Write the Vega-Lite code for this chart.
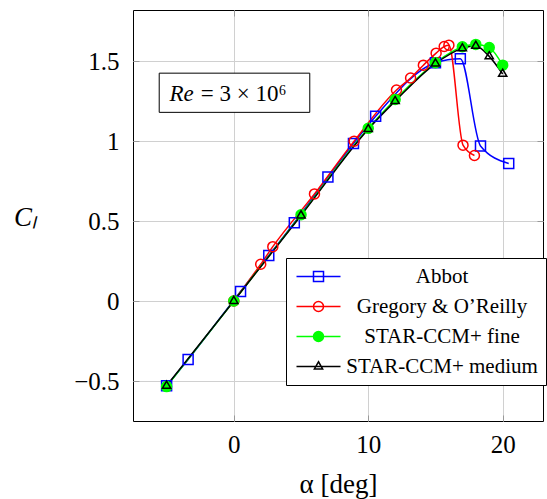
{
  "$schema": "https://vega.github.io/schema/vega-lite/v6.json",
  "width": 410,
  "height": 411,
  "autosize": {"type": "none"},
  "padding": {"left": 133, "top": 10, "right": 4, "bottom": 78},
  "background": "white",
  "config": {"view": {"stroke": "black", "strokeWidth": 1}, "font": "Liberation Serif", "legend": {"labelFont": "Liberation Serif"}},
  "data": {"values": [
    {"series": "Abbot", "alpha": -5.0, "cl": -0.53},
    {"series": "Abbot", "alpha": -3.4, "cl": -0.365},
    {"series": "Abbot", "alpha": 0.5, "cl": 0.06},
    {"series": "Abbot", "alpha": 2.6, "cl": 0.285},
    {"series": "Abbot", "alpha": 4.5, "cl": 0.49},
    {"series": "Abbot", "alpha": 7.0, "cl": 0.775},
    {"series": "Abbot", "alpha": 8.9, "cl": 0.985},
    {"series": "Abbot", "alpha": 10.55, "cl": 1.155},
    {"series": "Abbot", "alpha": 15.0, "cl": 1.49},
    {"series": "Abbot", "alpha": 16.85, "cl": 1.515},
    {"series": "Abbot", "alpha": 18.35, "cl": 0.97},
    {"series": "Abbot", "alpha": 20.45, "cl": 0.86},
    {"series": "Gregory & O’Reilly", "alpha": 0.0, "cl": 0.0},
    {"series": "Gregory & O’Reilly", "alpha": 2.0, "cl": 0.23},
    {"series": "Gregory & O’Reilly", "alpha": 2.9, "cl": 0.34},
    {"series": "Gregory & O’Reilly", "alpha": 6.0, "cl": 0.67},
    {"series": "Gregory & O’Reilly", "alpha": 8.95, "cl": 1.0},
    {"series": "Gregory & O’Reilly", "alpha": 12.1, "cl": 1.32},
    {"series": "Gregory & O’Reilly", "alpha": 13.15, "cl": 1.395},
    {"series": "Gregory & O’Reilly", "alpha": 14.1, "cl": 1.475},
    {"series": "Gregory & O’Reilly", "alpha": 15.05, "cl": 1.55},
    {"series": "Gregory & O’Reilly", "alpha": 15.65, "cl": 1.592},
    {"series": "Gregory & O’Reilly", "alpha": 16.0, "cl": 1.6},
    {"series": "Gregory & O’Reilly", "alpha": 17.05, "cl": 0.975},
    {"series": "Gregory & O’Reilly", "alpha": 17.9, "cl": 0.91},
    {"series": "STAR-CCM+ fine", "alpha": -5.0, "cl": -0.535},
    {"series": "STAR-CCM+ fine", "alpha": 0.0, "cl": 0.0},
    {"series": "STAR-CCM+ fine", "alpha": 5.0, "cl": 0.54},
    {"series": "STAR-CCM+ fine", "alpha": 10.0, "cl": 1.08},
    {"series": "STAR-CCM+ fine", "alpha": 12.0, "cl": 1.26},
    {"series": "STAR-CCM+ fine", "alpha": 15.0, "cl": 1.49},
    {"series": "STAR-CCM+ fine", "alpha": 17.0, "cl": 1.59},
    {"series": "STAR-CCM+ fine", "alpha": 18.0, "cl": 1.605},
    {"series": "STAR-CCM+ fine", "alpha": 19.0, "cl": 1.585},
    {"series": "STAR-CCM+ fine", "alpha": 20.0, "cl": 1.475},
    {"series": "STAR-CCM+ medium", "alpha": -5.0, "cl": -0.53},
    {"series": "STAR-CCM+ medium", "alpha": 0.0, "cl": 0.0},
    {"series": "STAR-CCM+ medium", "alpha": 5.0, "cl": 0.535},
    {"series": "STAR-CCM+ medium", "alpha": 10.0, "cl": 1.075},
    {"series": "STAR-CCM+ medium", "alpha": 12.0, "cl": 1.25},
    {"series": "STAR-CCM+ medium", "alpha": 15.0, "cl": 1.485},
    {"series": "STAR-CCM+ medium", "alpha": 17.0, "cl": 1.58},
    {"series": "STAR-CCM+ medium", "alpha": 18.0, "cl": 1.595},
    {"series": "STAR-CCM+ medium", "alpha": 19.0, "cl": 1.53},
    {"series": "STAR-CCM+ medium", "alpha": 20.0, "cl": 1.42}
  ]},
  "resolve": {"axis": {"x": "independent", "y": "independent"}},
  "layer": [
    {
      "data": {"values": [{}]},
      "mark": {"type": "rect", "fill": "white", "stroke": "black", "strokeWidth": 1},
      "encoding": {
        "x": {"datum": -5.55, "type": "quantitative", "scale": {"domain": [-7.5, 23], "nice": false, "zero": false}, "axis": null},
        "x2": {"datum": 5.65},
        "y": {"datum": 1.425, "type": "quantitative", "scale": {"domain": [-0.75, 1.82], "nice": false, "zero": false}, "axis": null},
        "y2": {"datum": 1.18}
      }
    },
    {
      "data": {"values": [{}]},
      "mark": {"type": "text", "text": "Re", "font": "Liberation Serif", "fontStyle": "italic", "fontSize": 23, "align": "right", "baseline": "alphabetic", "dx": -40, "color": "black"},
      "encoding": {
        "x": {"datum": 0, "type": "quantitative", "axis": null},
        "y": {"datum": 1.25, "type": "quantitative", "axis": null}
      }
    },
    {
      "data": {"values": [{}]},
      "mark": {"type": "text", "text": "= 3 × 10⁶", "font": "Liberation Serif", "fontSize": 23, "align": "left", "baseline": "alphabetic", "dx": -33, "color": "black"},
      "encoding": {
        "x": {"datum": 0, "type": "quantitative", "axis": null},
        "y": {"datum": 1.25, "type": "quantitative", "axis": null}
      }
    },
    {
      "mark": {"type": "line", "interpolate": "monotone", "strokeWidth": 1.5},
      "encoding": {
        "x": {"field": "alpha", "type": "quantitative",
          "axis": {"orient": "bottom", "values": [0, 10, 20], "domain": false, "grid": true, "gridColor": "#d0d0d0", "gridWidth": 1,
            "tickColor": "#999999", "tickSize": -6, "labelPadding": 17, "labelFont": "Liberation Serif", "labelFontSize": 25, "labelColor": "black",
            "title": "α [deg]", "titleFont": "Liberation Serif", "titleFontSize": 27, "titleFontWeight": "normal", "titleColor": "black",
            "titleBaseline": "alphabetic", "titleY": 71}},
        "y": {"field": "cl", "type": "quantitative",
          "axis": {"orient": "left", "values": [-0.5, 0, 0.5, 1, 1.5], "format": "~g", "domain": false, "grid": true, "gridColor": "#d0d0d0", "gridWidth": 1,
            "tickColor": "#999999", "tickSize": -6, "labelPadding": 20, "labelFont": "Liberation Serif", "labelFontSize": 25, "labelColor": "black",
            "title": "Cₗ", "titleFont": "Liberation Serif", "titleFontSize": 27, "titleFontWeight": "normal", "titleFontStyle": "italic", "titleColor": "black",
            "titleAngle": 0, "titleAlign": "center", "titleBaseline": "middle", "titleX": -108, "titleY": 207}},
        "stroke": {"field": "series", "type": "nominal",
          "scale": {"domain": ["Abbot", "Gregory & O’Reilly", "STAR-CCM+ fine", "STAR-CCM+ medium"], "range": ["#0000ff", "#ff0000", "#00ff00", "#000000"]}}
      }
    },
    {
      "mark": {"type": "point", "opacity": 0, "strokeWidth": 1.5, "size": 100},
      "encoding": {
        "x": {"field": "alpha", "type": "quantitative", "axis": null},
        "y": {"field": "cl", "type": "quantitative", "axis": null},
        "stroke": {"field": "series", "type": "nominal"},
        "shape": {"field": "series", "type": "nominal",
          "scale": {"domain": ["Abbot", "Gregory & O’Reilly", "STAR-CCM+ fine", "STAR-CCM+ medium"],
            "range": [
              "M-4.4,0H4.4M-1,-1H1V1H-1Z",
              "M-4.4,0H4.4M1,0A1,1,0,1,1,-1,0A1,1,0,1,1,1,0Z",
              "M-4.4,0H4.4M1,0A1,1,0,1,1,-1,0A1,1,0,1,1,1,0ZM0.75,0A0.75,0.75,0,1,1,-0.75,0A0.75,0.75,0,1,1,0.75,0ZM0.5,0A0.5,0.5,0,1,1,-0.5,0A0.5,0.5,0,1,1,0.5,0ZM0.25,0A0.25,0.25,0,1,1,-0.25,0A0.25,0.25,0,1,1,0.25,0Z",
              "M-4.4,0H4.4M0,-0.95L0.823,0.475L-0.823,0.475Z"]},
          "legend": {"orient": "none", "legendX": 153, "legendY": 248, "title": null, "direction": "vertical",
            "fillColor": "white", "strokeColor": "black", "padding": 8, "rowPadding": 8,
            "labelFont": "Liberation Serif", "labelFontSize": 21, "labelColor": "black", "labelAlign": "center", "labelOffset": 113, "labelLimit": 0,
            "symbolOffset": 14, "symbolSize": 100, "symbolStrokeWidth": 1.5, "symbolOpacity": 1,
            "encode": {"symbols": {"opacity": {"value": 1}, "strokeWidth": {"value": 1.5},
              "fill": {"signal": "datum.value === 'STAR-CCM+ fine' ? '#00ff00' : 'transparent'"}}}}}
      }
    },
    {
      "transform": [{"filter": "datum.series === 'Abbot'"}],
      "mark": {"type": "point", "shape": "square", "size": 100, "strokeWidth": 1.5, "stroke": "#0000ff", "fill": "none", "opacity": 1},
      "encoding": {
        "x": {"field": "alpha", "type": "quantitative", "axis": null},
        "y": {"field": "cl", "type": "quantitative", "axis": null}
      }
    },
    {
      "transform": [{"filter": "indexof(datum.series, 'Gregory') === 0"}],
      "mark": {"type": "point", "shape": "circle", "size": 100, "strokeWidth": 1.5, "stroke": "#ff0000", "fill": "none", "opacity": 1},
      "encoding": {
        "x": {"field": "alpha", "type": "quantitative", "axis": null},
        "y": {"field": "cl", "type": "quantitative", "axis": null}
      }
    },
    {
      "transform": [{"filter": "datum.series === 'STAR-CCM+ fine'"}],
      "mark": {"type": "point", "shape": "circle", "size": 100, "strokeWidth": 1.5, "stroke": "#00ff00", "fill": "#00ff00", "opacity": 1},
      "encoding": {
        "x": {"field": "alpha", "type": "quantitative", "axis": null},
        "y": {"field": "cl", "type": "quantitative", "axis": null}
      }
    },
    {
      "transform": [{"filter": "datum.series === 'STAR-CCM+ medium'"}],
      "mark": {"type": "point", "shape": "M0,-0.95L0.823,0.475L-0.823,0.475Z", "size": 100, "strokeWidth": 1.5, "stroke": "#000000", "fill": "none", "opacity": 1},
      "encoding": {
        "x": {"field": "alpha", "type": "quantitative",
          "axis": {"orient": "top", "values": [0, 10, 20], "domain": false, "grid": false, "labels": false, "tickColor": "#999999", "tickSize": -6, "title": null}},
        "y": {"field": "cl", "type": "quantitative",
          "axis": {"orient": "right", "values": [-0.5, 0, 0.5, 1, 1.5], "domain": false, "grid": false, "labels": false, "tickColor": "#999999", "tickSize": -6, "title": null}}
      }
    }
  ]
}
